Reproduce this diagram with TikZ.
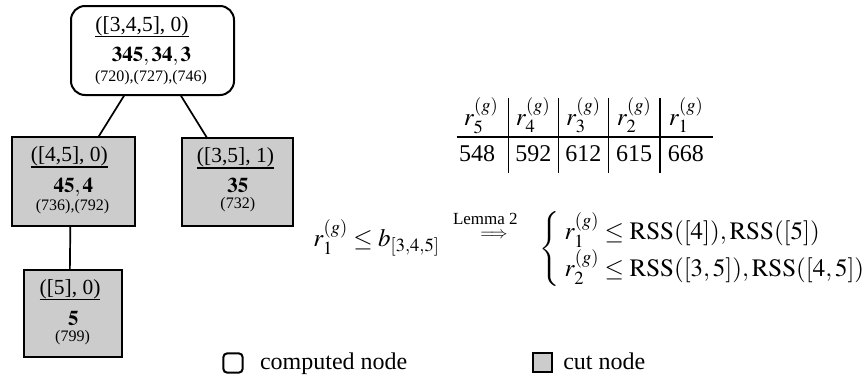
\documentclass[tikz,border=0pt]{standalone}
\usepackage{mathptmx}
\usepackage{fontspec}
\setmainfont{Liberation Serif}
\usetikzlibrary{calc}

\tikzset{
  every node/.style={inner sep=0pt, outer sep=0pt},
  compbox/.style={draw, line width=2pt, rounded corners=14pt},
  cutbox/.style={draw, line width=2pt, fill=black!20},
  edge/.style={line width=1.7pt},
  ttl/.style={anchor=base, font=\fontsize{21.5}{26}\selectfont},
  bignum/.style={anchor=base, font=\fontsize{21}{25}\selectfont},
  smallnum/.style={anchor=base, font=\fontsize{16}{19}\selectfont},
  uline/.style={line width=1.8pt},
  tabhead/.style={anchor=base, font=\fontsize{25}{30}\selectfont},
  tabtext/.style={anchor=base, font=\fontsize{24}{29}\selectfont},
  tabrule/.style={line width=1.6pt},
  formula/.style={font=\fontsize{25}{31.7}\selectfont},
  lemmatext/.style={anchor=base west, font=\fontsize{17}{20}\selectfont},
  legendtext/.style={anchor=base west, font=\fontsize{24}{28}\selectfont},
}

\begin{document}
\begin{tikzpicture}[x=1pt, y=-1pt]
  \useasboundingbox (0,0) rectangle (864,378);

  % --- search tree ---
  \node[compbox, minimum width=163pt, minimum height=89pt] (root) at (152.5,50.5) {};
  \node[ttl] (roott) at ($(root.north)+(-10.5,25)$) {([3,4,5], 0)};
  \draw[uline] ([yshift=-5.5pt]roott.base west) -- ([yshift=-5.5pt]roott.base east);
  \node[bignum] (rootb) at ($(root.north)+(-1,55.7)$) {$\mathbf{345},\mathbf{34},\mathbf{3}$};
  \node[smallnum] (roots) at ($(root.north)+(-1.5,75.7)$) {(720),(727),(746)};

  \node[cutbox, minimum width=123.3pt, minimum height=89pt] (n45) at (73.35,181.5) {};
  \node[ttl] (n45t) at ($(n45.north)+(-4,24.3)$) {([4,5], 0)};
  \draw[uline] ([yshift=-5.5pt]n45t.base west) -- ([yshift=-5.5pt]n45t.base east);
  \node[bignum] (n45b) at ($(n45.north)+(0,55.5)$) {$\mathbf{45},\mathbf{4}$};
  \node[smallnum] (n45s) at ($(n45.north)+(-0.8,73.3)$) {(736),(792)};

  \node[cutbox, minimum width=111pt, minimum height=88pt] (n35) at (237.8,181.5) {};
  \node[ttl] (n35t) at ($(n35.north)+(-2.3,25.3)$) {([3,5], 1)};
  \draw[uline] ([yshift=-5.5pt]n35t.base west) -- ([yshift=-5.5pt]n35t.base east);
  \node[bignum] (n35b) at ($(n35.north)+(0,54.5)$) {$\mathbf{35}$};
  \node[smallnum] (n35s) at ($(n35.north)+(0,71)$) {(732)};

  \node[cutbox, minimum width=97.7pt, minimum height=86.7pt] (n5) at (72.85,313.35) {};
  \node[ttl] (n5t) at ($(n5.north)+(-2.8,24)$) {([5], 0)};
  \draw[uline] ([yshift=-5.5pt]n5t.base west) -- ([yshift=-5.5pt]n5t.base east);
  \node[bignum] (n5b) at ($(n5.north)+(0.5,55)$) {$\mathbf{5}$};
  \node[smallnum] (n5s) at ($(n5.north)+(-0.3,71.7)$) {(799)};

  \draw[edge] ([xshift=-28pt]root.south) -- ([xshift=25pt]n45.north);
  \draw[edge] ([xshift=28pt]root.south) -- ([xshift=-31pt]n35.north);
  \draw[edge] ([xshift=-3pt]n45.south) -- ([xshift=-3pt]n5.north);

  % --- table of ordered residuals ---
  \node[tabhead] (h5) at (481,125) {$r_5^{(g)}$};
  \node[tabhead] (h4) at (533,125) {$r_4^{(g)}$};
  \node[tabhead] (h3) at (583.3,125) {$r_3^{(g)}$};
  \node[tabhead] (h2) at (634,125) {$r_2^{(g)}$};
  \node[tabhead] (h1) at (686,125) {$r_1^{(g)}$};
  \node[tabtext] (d5) at (477,161.5) {548};
  \node[tabtext] (d4) at (533.3,161.5) {592};
  \node[tabtext] (d3) at (583.3,161.5) {612};
  \node[tabtext] (d2) at (634.2,161.5) {615};
  \node[tabtext] (d1) at (685.8,161.5) {668};
  \draw[tabrule] (456.7,136.7) -- (713.3,136.7);
  \foreach \x in {508.3,558.3,608.3,660}
    \draw[tabrule] (\x,97.7) -- (\x,173);

  % --- bound and its consequence ---
  \node[formula, anchor=base west] (lhs) at (313.3,246.7) {$r_1^{(g)} \le b_{[3,4,5]}$};
  \node[lemmatext] (lem) at (453,224.5) {Lemma 2};
  \node[font=\fontsize{17}{20}\selectfont] (imp) at (494,235.5) {$\Longrightarrow$};
  \node[formula, anchor=west] (rhs) at (539,249.5) {%
    $\left\{\;\renewcommand{\arraystretch}{1}\begin{array}{@{}l@{}}
      r_1^{(g)} \le \mathrm{RSS}([4]), \mathrm{RSS}([5])\\
      r_2^{(g)} \le \mathrm{RSS}([3,5]), \mathrm{RSS}([4,5])
    \end{array}\right.$};

  % --- legend ---
  \node[draw, line width=2pt, rounded corners=4pt, minimum size=19.4pt] (legc) at (233,363) {};
  \node[legendtext] (legct) at (260,369.5) {computed node};
  \node[draw, line width=2pt, fill=black!20, minimum size=19.4pt] (legx) at (542.7,362.7) {};
  \node[legendtext] (legxt) at (563.3,369.5) {cut node};
\end{tikzpicture}
\end{document}
